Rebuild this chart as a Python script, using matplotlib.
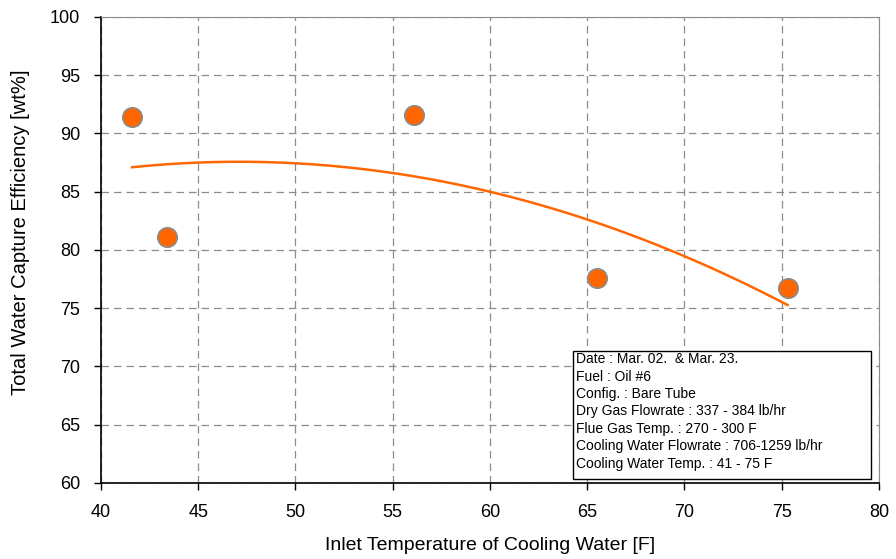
import numpy as np
import matplotlib
matplotlib.use('Agg')
import matplotlib.pyplot as plt
from matplotlib.patches import Rectangle

plt.rcParams['font.family'] = ['Liberation Sans', 'DejaVu Sans']

inlet_temp = [41.6, 43.4, 56.1, 65.5, 75.3]
capture_eff = [91.4, 81.1, 91.6, 77.6, 76.7]

info_lines = [
    'Date : Mar. 02.  & Mar. 23.',
    'Fuel : Oil #6',
    'Config. : Bare Tube',
    'Dry Gas Flowrate : 337 - 384 lb/hr',
    'Flue Gas Temp. : 270 - 300 F',
    'Cooling Water Flowrate : 706-1259 lb/hr',
    'Cooling Water Temp. : 41 - 75 F',
]

orange = '#FF6600'

fig = plt.figure(figsize=(8.96, 5.59), dpi=100)
ax = fig.add_axes([0.1127, 0.136, 0.8683, 0.8336])

# 2nd order trendline through the measured points
coef = np.polyfit(inlet_temp, capture_eff, 2)
xs = np.linspace(min(inlet_temp), max(inlet_temp), 200)
ax.plot(xs, np.polyval(coef, xs), color=orange, lw=1.8, zorder=3)

ax.plot(inlet_temp, capture_eff, 'o', ms=14, color=orange,
        markeredgecolor='#8c8c8c', markeredgewidth=1.2, zorder=4)

ax.set_xlim(40, 80)
ax.set_ylim(60, 100)
ax.set_xticks(range(40, 81, 5))
ax.set_yticks(range(60, 101, 5))
ax.grid(True, color='#8c8c8c', ls=(0, (6, 4)), lw=0.9)
ax.set_axisbelow(True)

for s in ['top', 'right']:
    ax.spines[s].set_color('#8c8c8c')
for s in ['left', 'bottom']:
    ax.spines[s].set_color('black')
    ax.spines[s].set_linewidth(1.2)

ax.tick_params(direction='out', length=5, width=1, labelsize=13,
               colors='black', pad=10)

# axis titles placed on the figure
fig.text(490 / 896, 1 - 545 / 559, 'Inlet Temperature of Cooling Water [F]',
         fontsize=14, ha='center', va='center')
fig.text(21 / 896, 1 - 232 / 559, 'Total Water Capture Efficiency [wt%]',
         fontsize=14.5, ha='center', va='center', rotation=90)

# test conditions box
ax.add_patch(Rectangle((64.27, 60.34), 15.32, 10.99, facecolor='white',
                       edgecolor='black', lw=1, zorder=5))
ax.text(64.4, 71.22, '\n'.join(info_lines), fontsize=10, va='top',
        ha='left', linespacing=1.31, zorder=6)

fig.savefig('out.png', dpi=100)
